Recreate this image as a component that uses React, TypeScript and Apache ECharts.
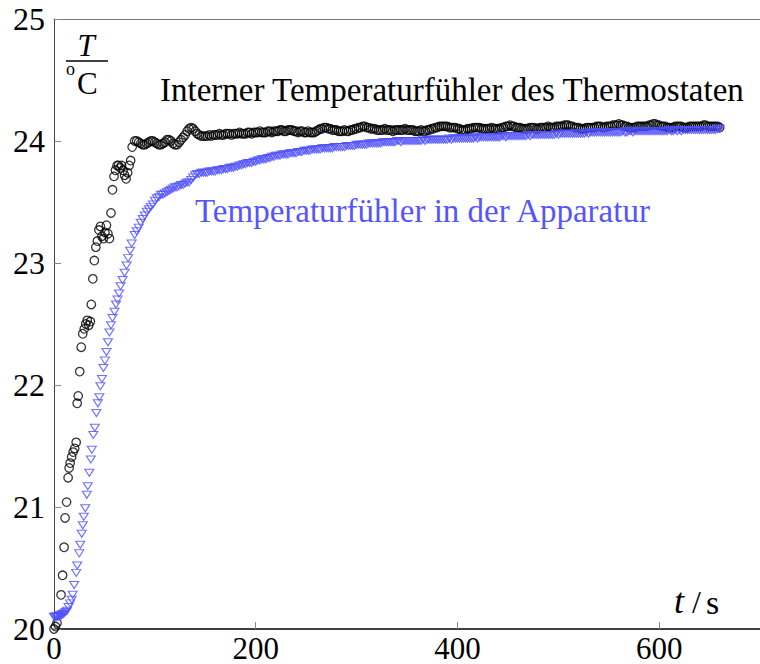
import React, { useEffect, useRef } from "react";
import * as echarts from "echarts";

const FONT = "'Liberation Serif', 'Times New Roman', serif";
const BLUE = "#4d4dff";

// Axis ranges and ticks
const X_MIN = 0;
const X_MAX = 700;
const X_STEP = 200;
const Y_MIN = 20;
const Y_MAX = 25;
const Y_STEP = 1;

// Heating phase of the thermostat's own sensor: [t / s, T / °C]
const thermostatRamp: [number, number][] = [
  [0, 20.0], [1.5, 20.02], [3, 20.05], [7, 20.28], [8.5, 20.44], [10, 20.67], [11, 20.91], [12.5, 21.04],
  [14, 21.24], [15, 21.32], [16, 21.36], [17.5, 21.41], [19, 21.45], [20.5, 21.48], [22, 21.53], [23, 21.85],
  [24, 21.91], [25.5, 22.11], [27, 22.31], [28.5, 22.42], [30, 22.46], [31.5, 22.5], [33, 22.53], [34.5, 22.49],
  [36, 22.52], [37, 22.66], [38.5, 22.87], [40, 23.02], [41.5, 23.13], [43, 23.18], [44.5, 23.27], [46, 23.3],
  [47.5, 23.22], [49, 23.2], [50.5, 23.25], [52, 23.31], [53.5, 23.24], [55, 23.2], [56.5, 23.41], [58, 23.6],
  [59.5, 23.71], [61, 23.76], [62.5, 23.8], [64, 23.8], [65.5, 23.78], [67, 23.8], [68.5, 23.76], [70, 23.72],
  [71.5, 23.69], [73, 23.74], [74.5, 23.8], [76, 23.84], [77.5, 23.95],
];

// Heating phase of the sensor inside the apparatus: [t / s, T / °C]
const apparatusRamp: [number, number][] = [
  [0, 20.1], [1, 20.1], [2, 20.1], [3, 20.1], [4, 20.1], [5, 20.11], [6, 20.11], [7, 20.11], [8, 20.12],
  [9, 20.12], [10, 20.13], [11.5, 20.14], [13, 20.15], [14.5, 20.18], [16, 20.21], [17.5, 20.24], [18.5, 20.28],
  [20, 20.36], [22, 20.46], [23, 20.52], [25, 20.62], [26, 20.69], [27.5, 20.78], [28.5, 20.85], [29.5, 20.92],
  [31, 20.99], [32.5, 21.1], [33.5, 21.17], [35, 21.28], [36.5, 21.39], [37.5, 21.47], [39, 21.59], [40.5, 21.65],
  [42, 21.77], [43.5, 21.85], [45, 21.9], [46, 21.99], [47.5, 22.05], [49, 22.14], [50.5, 22.2], [52, 22.27],
  [53.5, 22.35], [55, 22.43], [56.5, 22.49], [58, 22.55], [60, 22.6], [61.5, 22.66], [63, 22.7], [64.5, 22.75],
  [66, 22.81], [68, 22.86], [70, 22.92], [72, 22.98], [73.5, 23.04], [75.5, 23.1], [77, 23.16],
];

// Logged every 2 s from t = 80 s up to t = 660 s
const LOG_START = 80;
const LOG_STEP = 2;

const thermostatLog: number[] = [
  24.0, 24.0, 23.99, 23.98, 23.97, 23.97, 23.98, 23.99, 24.0, 24.0,
  23.99, 23.98, 23.97, 23.97, 23.98, 23.99, 24.01, 24.01, 24.0, 23.98,
  23.97, 23.97, 23.99, 24.01, 24.03, 24.05, 24.08, 24.1, 24.11, 24.1,
  24.08, 24.06, 24.05, 24.04, 24.04, 24.04, 24.04, 24.05, 24.04, 24.05,
  24.05, 24.05, 24.06, 24.05, 24.05, 24.06, 24.06, 24.06, 24.05, 24.06,
  24.06, 24.06, 24.07, 24.06, 24.06, 24.06, 24.07, 24.07, 24.06, 24.07,
  24.07, 24.07, 24.08, 24.07, 24.07, 24.07, 24.08, 24.08, 24.07, 24.08,
  24.08, 24.08, 24.09, 24.09, 24.08, 24.08, 24.09, 24.09, 24.09, 24.08,
  24.08, 24.07, 24.08, 24.08, 24.07, 24.07, 24.08, 24.07, 24.07, 24.07,
  24.08, 24.09, 24.1, 24.1, 24.11, 24.11, 24.1, 24.1, 24.09, 24.09,
  24.09, 24.08, 24.08, 24.08, 24.09, 24.08, 24.08, 24.09, 24.09, 24.1,
  24.1, 24.11, 24.11, 24.12, 24.12, 24.11, 24.11, 24.1, 24.1, 24.1,
  24.09, 24.09, 24.09, 24.09, 24.1, 24.09, 24.09, 24.09, 24.08, 24.09,
  24.09, 24.09, 24.09, 24.09, 24.1, 24.09, 24.09, 24.09, 24.09, 24.08,
  24.08, 24.08, 24.09, 24.08, 24.08, 24.09, 24.09, 24.1, 24.1, 24.11,
  24.11, 24.12, 24.12, 24.12, 24.12, 24.12, 24.11, 24.11, 24.11, 24.11,
  24.1, 24.1, 24.09, 24.09, 24.09, 24.1, 24.1, 24.1, 24.11, 24.11,
  24.11, 24.11, 24.1, 24.1, 24.1, 24.1, 24.1, 24.11, 24.1, 24.1,
  24.1, 24.1, 24.11, 24.11, 24.12, 24.12, 24.13, 24.12, 24.12, 24.11,
  24.11, 24.11, 24.1, 24.1, 24.1, 24.1, 24.11, 24.11, 24.11, 24.1,
  24.1, 24.11, 24.11, 24.11, 24.11, 24.12, 24.11, 24.11, 24.11, 24.12,
  24.12, 24.12, 24.12, 24.13, 24.13, 24.13, 24.12, 24.12, 24.11, 24.11,
  24.11, 24.1, 24.1, 24.1, 24.11, 24.11, 24.11, 24.11, 24.11, 24.12,
  24.12, 24.12, 24.11, 24.11, 24.12, 24.12, 24.12, 24.13, 24.13, 24.13,
  24.14, 24.13, 24.13, 24.12, 24.12, 24.11, 24.11, 24.11, 24.11, 24.12,
  24.12, 24.12, 24.12, 24.12, 24.12, 24.13, 24.13, 24.14, 24.14, 24.13,
  24.13, 24.12, 24.12, 24.12, 24.11, 24.11, 24.11, 24.11, 24.12, 24.12,
  24.12, 24.12, 24.11, 24.11, 24.11, 24.12, 24.12, 24.12, 24.12, 24.12,
  24.12, 24.12, 24.13, 24.13, 24.12, 24.12, 24.12, 24.12, 24.12, 24.12,
  24.11,
];

const apparatusLog: number[] = [
  23.23, 23.26, 23.29, 23.33, 23.36, 23.39, 23.42, 23.44, 23.46, 23.48,
  23.51, 23.53, 23.54, 23.56, 23.56, 23.57, 23.58, 23.59, 23.6, 23.61,
  23.62, 23.62, 23.63, 23.64, 23.64, 23.65, 23.66, 23.66, 23.68, 23.7,
  23.72, 23.73, 23.73, 23.74, 23.74, 23.74, 23.74, 23.75, 23.75, 23.75,
  23.75, 23.76, 23.76, 23.76, 23.77, 23.77, 23.77, 23.78, 23.78, 23.78,
  23.79, 23.79, 23.8, 23.8, 23.81, 23.81, 23.82, 23.82, 23.82, 23.83,
  23.83, 23.84, 23.84, 23.85, 23.85, 23.85, 23.86, 23.86, 23.87, 23.87,
  23.88, 23.88, 23.88, 23.89, 23.89, 23.89, 23.89, 23.9, 23.9, 23.9,
  23.9, 23.91, 23.91, 23.91, 23.92, 23.92, 23.92, 23.92, 23.93, 23.93,
  23.93, 23.93, 23.93, 23.94, 23.94, 23.94, 23.94, 23.94, 23.94, 23.95,
  23.95, 23.95, 23.95, 23.95, 23.95, 23.96, 23.96, 23.96, 23.96, 23.96,
  23.97, 23.97, 23.97, 23.97, 23.97, 23.97, 23.98, 23.98, 23.98, 23.98,
  23.98, 23.98, 23.98, 23.99, 23.99, 23.99, 23.99, 23.99, 23.99, 23.99,
  24.0, 24.0, 23.99, 24.0, 24.0, 24.0, 24.0, 24.0, 24.0, 24.0,
  24.0, 24.0, 24.0, 24.01, 24.0, 24.01, 24.01, 24.01, 24.01, 24.01,
  24.01, 24.01, 24.01, 24.01, 24.01, 24.01, 24.02, 24.01, 24.02, 24.02,
  24.02, 24.02, 24.02, 24.02, 24.02, 24.02, 24.02, 24.02, 24.02, 24.03,
  24.02, 24.03, 24.03, 24.03, 24.03, 24.03, 24.03, 24.03, 24.03, 24.03,
  24.03, 24.03, 24.04, 24.04, 24.03, 24.04, 24.04, 24.04, 24.04, 24.04,
  24.04, 24.04, 24.04, 24.04, 24.04, 24.05, 24.04, 24.05, 24.05, 24.05,
  24.05, 24.05, 24.05, 24.05, 24.05, 24.05, 24.05, 24.05, 24.05, 24.06,
  24.05, 24.06, 24.06, 24.06, 24.06, 24.06, 24.06, 24.06, 24.06, 24.06,
  24.06, 24.06, 24.06, 24.06, 24.07, 24.06, 24.07, 24.07, 24.07, 24.07,
  24.07, 24.07, 24.07, 24.07, 24.07, 24.07, 24.07, 24.07, 24.07, 24.07,
  24.07, 24.07, 24.08, 24.07, 24.07, 24.08, 24.08, 24.07, 24.08, 24.08,
  24.08, 24.08, 24.08, 24.08, 24.08, 24.08, 24.08, 24.08, 24.08, 24.08,
  24.08, 24.08, 24.08, 24.08, 24.08, 24.09, 24.08, 24.08, 24.09, 24.08,
  24.09, 24.08, 24.09, 24.09, 24.09, 24.09, 24.09, 24.09, 24.09, 24.09,
  24.09, 24.09, 24.09, 24.09, 24.09, 24.09, 24.09, 24.09, 24.09, 24.1,
  24.1,
];

const SERIES_NAMES = [
  "Interner Temperaturfühler des Thermostaten",
  "Temperaturfühler in der Apparatur",
];

function toPoints(ramp: [number, number][], log: number[]): [number, number][] {
  return ramp.concat(log.map((v, i) => [LOG_START + i * LOG_STEP, v] as [number, number]));
}

export default function App() {
  const ref = useRef<HTMLDivElement>(null);

  useEffect(() => {
    if (!ref.current) return;
    const chart = echarts.init(ref.current, undefined, { renderer: "svg" });

    const labelStyle = { fontFamily: FONT, fontSize: 31, color: "#000" };

    chart.setOption({
      animation: false,
      backgroundColor: "#fff",
      grid: { left: 54, right: 0, top: 19, bottom: 35, containLabel: false, outerBoundsMode: "none" },
      xAxis: [
        {
          type: "value",
          min: X_MIN,
          max: X_MAX,
          interval: X_STEP,
          axisLine: { show: true, lineStyle: { color: "#000", width: 1.5 } },
          axisTick: { show: true, inside: true, length: 7, lineStyle: { color: "#888", width: 1 } },
          axisLabel: { ...labelStyle, margin: 7, lineHeight: 24, showMaxLabel: false, hideOverlap: false },
          splitLine: { show: false },
        },
        {
          type: "value",
          position: "top",
          min: X_MIN,
          max: X_MAX,
          axisLine: { show: true, onZero: false, lineStyle: { color: "#777", width: 1 } },
          axisTick: { show: false },
          axisLabel: { show: false },
          splitLine: { show: false },
        },
      ],
      yAxis: {
        type: "value",
        min: Y_MIN,
        max: Y_MAX,
        interval: Y_STEP,
        axisLine: { show: true, lineStyle: { color: "#444", width: 1 } },
        axisTick: { show: true, inside: true, length: 7, lineStyle: { color: "#888", width: 1 } },
        axisLabel: { ...labelStyle, fontSize: 32, margin: 9, lineHeight: 24, hideOverlap: false },
        splitLine: { show: false },
      },
      series: [
        {
          name: SERIES_NAMES[0],
          type: "scatter",
          clip: false,
          symbol: "circle",
          symbolSize: 8.5,
          itemStyle: { color: "rgba(0,0,0,0)", borderColor: "#000", borderWidth: 1.3 },
          data: toPoints(thermostatRamp, thermostatLog),
        },
        {
          name: SERIES_NAMES[1],
          type: "scatter",
          clip: false,
          symbol: "triangle",
          symbolRotate: 180,
          symbolSize: [9, 7],
          itemStyle: { color: "rgba(0,0,0,0)", borderColor: BLUE, borderWidth: 1.1 },
          data: toPoints(apparatusRamp, apparatusLog),
        },
      ],
      graphic: [
        {
          type: "text",
          x: 86,
          y: 45,
          style: { text: "T", fontFamily: FONT, fontStyle: "italic", fontSize: 31, fill: "#000", align: "center", verticalAlign: "middle" },
        },
        {
          type: "line",
          shape: { x1: 66, y1: 61, x2: 108, y2: 61 },
          style: { stroke: "#000", lineWidth: 1.5 },
        },
        {
          type: "text",
          x: 66,
          y: 69,
          style: { text: "o", fontFamily: FONT, fontSize: 18, fill: "#000", align: "left", verticalAlign: "middle" },
        },
        {
          type: "text",
          x: 77,
          y: 83,
          style: { text: "C", fontFamily: FONT, fontSize: 31, fill: "#000", align: "left", verticalAlign: "middle" },
        },
        {
          type: "text",
          x: 160,
          y: 90,
          style: { text: SERIES_NAMES[0], fontFamily: FONT, fontSize: 33, fill: "#000", align: "left", verticalAlign: "middle" },
        },
        {
          type: "text",
          x: 195,
          y: 211,
          style: { text: SERIES_NAMES[1], fontFamily: FONT, fontSize: 33, fill: "#5555ff", align: "left", verticalAlign: "middle" },
        },
        {
          type: "text",
          x: 674,
          y: 601,
          style: { text: "t", fontFamily: FONT, fontStyle: "italic", fontSize: 36, fill: "#000", align: "left", verticalAlign: "middle" },
        },
        {
          type: "text",
          x: 692,
          y: 602,
          style: { text: "/", fontFamily: FONT, fontSize: 32, fill: "#000", align: "left", verticalAlign: "middle" },
        },
        {
          type: "text",
          x: 706,
          y: 602,
          style: { text: "s", fontFamily: FONT, fontSize: 34, fill: "#000", align: "left", verticalAlign: "middle" },
        },
      ],
    });

    return () => chart.dispose();
  }, []);

  return (
    <div
      ref={ref}
      style={{ position: "fixed", left: 0, top: 0, width: 760, height: 664, background: "#fff" }}
    />
  );
}
